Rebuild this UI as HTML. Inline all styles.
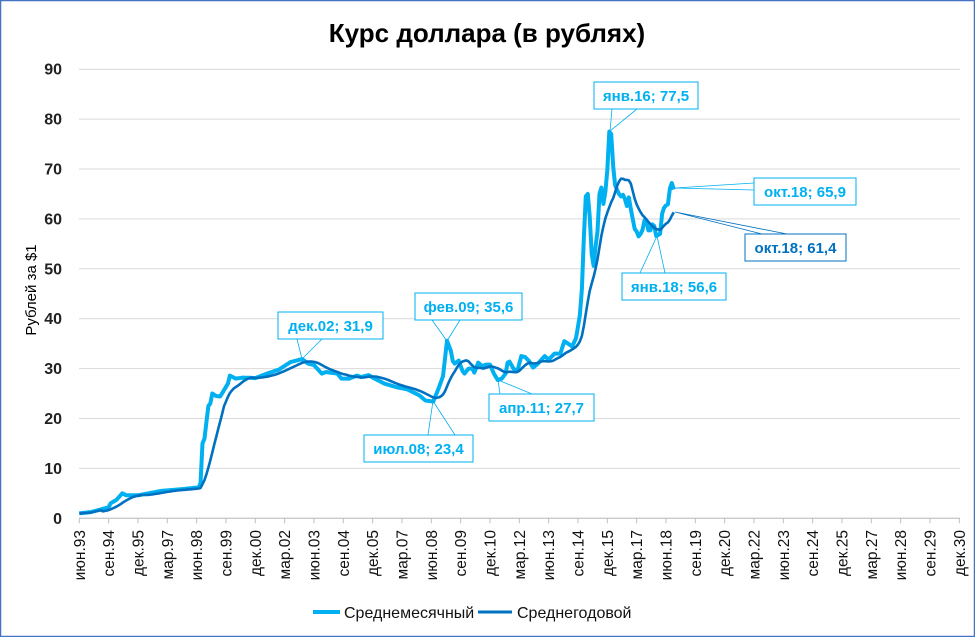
<!DOCTYPE html>
<html><head><meta charset="utf-8">
<style>
html,body{margin:0;padding:0;background:#fff;}
body{width:975px;height:637px;overflow:hidden;font-family:"Liberation Sans","DejaVu Sans",sans-serif;}
svg text{font-family:"Liberation Sans","DejaVu Sans",sans-serif;}
</style></head>
<body>
<svg id="c" width="975" height="637" xmlns="http://www.w3.org/2000/svg">
<rect x="0.5" y="0.5" width="974" height="636" fill="#fff" stroke="#4472C4" stroke-width="1.5"/>
<text x="487" y="42" text-anchor="middle" font-size="26" font-weight="bold" fill="#000">Курс доллара (в рублях)</text>
<text transform="translate(36,290) rotate(-90)" text-anchor="middle" font-size="15" fill="#000">Рублей за $1</text>
<g id="grid"></g>
<g id="ylab" font-size="16" font-weight="bold" fill="#222" text-anchor="end"></g>
<g id="xlab" font-size="15.5" fill="#111"></g>
<path id="mon" fill="none" stroke="#00B0F0" stroke-width="4" stroke-linejoin="round"/>
<path id="ann" fill="none" stroke="#0070C0" stroke-width="2.6" stroke-linejoin="round"/>
<g fill="none" stroke="#00B0F0" stroke-width="0.8">
<polyline points="297,339 302,359 322,339"/>
<polyline points="432,320 447,341 460,320"/>
<polyline points="428,435 433,401 455,435"/>
<polyline points="500,394 498,380 532,394"/>
<polyline points="612,109 610,131 637,109"/>
<polyline points="754,183 675,188 754,190"/>
<polyline points="640,273 657,236 665,273"/>
</g>
<g fill="none" stroke="#0070C0" stroke-width="0.8">
<polyline points="762,234 675,212 787,234"/>
</g>
<g font-size="15" font-weight="bold" fill="#00B0F0">
<rect x="278" y="312" width="105" height="27" fill="#fff" stroke="#00B0F0"/><text x="330.5" y="331" text-anchor="middle">дек.02; 31,9</text>
<rect x="415" y="293" width="107" height="27" fill="#fff" stroke="#00B0F0"/><text x="468.5" y="312" text-anchor="middle">фев.09; 35,6</text>
<rect x="364" y="435" width="109" height="27" fill="#fff" stroke="#00B0F0"/><text x="418.5" y="454" text-anchor="middle">июл.08; 23,4</text>
<rect x="489" y="394" width="105" height="27" fill="#fff" stroke="#00B0F0"/><text x="541.5" y="413" text-anchor="middle">апр.11; 27,7</text>
<rect x="594" y="82" width="104" height="27" fill="#fff" stroke="#00B0F0"/><text x="646" y="101" text-anchor="middle">янв.16; 77,5</text>
<rect x="754" y="178" width="102" height="27" fill="#fff" stroke="#00B0F0"/><text x="805" y="197" text-anchor="middle">окт.18; 65,9</text>
<rect x="622" y="273" width="104" height="27" fill="#fff" stroke="#00B0F0"/><text x="674" y="292" text-anchor="middle">янв.18; 56,6</text>
<rect x="745" y="234" width="101" height="27" fill="#fff" stroke="#0070C0"/><text x="795.5" y="253" text-anchor="middle" fill="#0070C0">окт.18; 61,4</text>
</g>
<line x1="313" y1="612" x2="340" y2="612" stroke="#00B0F0" stroke-width="4"/>
<text x="344" y="618" font-size="16" fill="#111">Среднемесячный</text>
<line x1="478" y1="612" x2="512" y2="612" stroke="#0070C0" stroke-width="3"/>
<text x="517" y="618" font-size="16" fill="#111">Среднегодовой</text>
</svg>
<script>
var X0=79.3,PM=1.9556,Y0=518.3,PY=4.99;
function X(m){return X0+m*PM;}function Y(v){return Y0-v*PY;}
var ns="http://www.w3.org/2000/svg";
function el(p,t,a,txt){var e=document.createElementNS(ns,t);for(var k in a)e.setAttribute(k,a[k]);if(txt)e.textContent=txt;document.getElementById(p).appendChild(e);}
for(var v=0;v<=90;v+=10){el('grid','line',{x1:79,x2:960,y1:Y(v),y2:Y(v),stroke:'#d9d9d9','stroke-width':1});el('ylab','text',{x:62,y:Y(v)+5.5},String(v));}
el('grid','line',{x1:79,x2:960,y1:Y0,y2:Y0,stroke:'#bfbfbf','stroke-width':1});
var mn=['июн','сен','дек','мар'];
for(var i=0;i<=30;i++){var m=i*15,x=X(m);el('grid','line',{x1:x,x2:x,y1:Y0,y2:Y0+5,stroke:'#bfbfbf'});
var yr=(93+Math.floor((5+m)/12))%100;var lab=mn[i%4]+'.'+(yr<10?'0':'')+yr;
el('xlab','text',{transform:'translate('+(x+5.5)+',530) rotate(-90)','text-anchor':'end'},lab);}
var k=[[0,1.0],[6,1.25],[12,1.9],[15,2.2],[16,3.0],[19,3.7],[22,5.0],[24,4.6],[30,4.6],[42,5.5],[54,5.9],[61,6.2],[62,7],[63,15],[64,16],[66,22.5],[67,23],[68,25],[70,24.5],[72,24.4],[76,27],[77,28.6],[80,28],[84,28.2],[90,28.1],[96,29],[102,29.8],[108,31.3],[114,31.9],[117,31],[120,30.7],[124,29],[126,29.3],[132,29],[134,28],[138,28],[142,28.6],[144,28.3],[148,28.7],[150,28.2],[156,27],[162,26.3],[168,25.8],[174,24.6],[177,23.6],[181,23.4],[184,26.3],[186,28.5],[187,32],[188,35.6],[189,34.6],[190,33.5],[191,31.5],[192,31],[194,31.6],[196,29.5],[197,29],[199,30],[201,30.0],[202,29.2],[204,31.2],[206,30.5],[208,30.8],[210,30.8],[212,29.0],[214,27.7],[216,28],[218,29],[219,31.2],[220,31.4],[222,30.0],[224,29.5],[226,32.5],[228,32.3],[230,31.5],[232,30.2],[234,30.8],[238,32.5],[240,31.8],[243,33],[246,33],[248,35.5],[250,35],[252,34.4],[254,36.1],[256,40.8],[257,46],[258,56],[259,64.5],[260,65],[261,60.5],[262,53],[263,50.6],[264,54.5],[265,57.5],[266,65],[267,66.3],[268,63],[269,65.5],[270,69.7],[271,77.5],[272,77],[273,70.5],[274,66.8],[275,65.8],[276,65],[277,64.5],[278,64.8],[279,64],[280,62.6],[281,64.3],[282,62],[283,60],[284,58],[285,57.5],[286,56.5],[287,57],[288,57.8],[289,59.7],[290,59.6],[291,57.7],[292,57.7],[293,58.9],[294,58.6],[295,56.6],[296,56.8],[297,57],[298,61],[299,62.2],[300,62.7],[301,62.9],[302,66.1],[303,67.2],[304,65.9]];
var v=[];for(var j=0;j<k.length-1;j++){var a=k[j],b=k[j+1];for(var m=a[0];m<b[0];m++)v[m]=a[1]+(b[1]-a[1])*(m-a[0])/(b[0]-a[0]);}v[304]=65.9;
var d='',e='';for(var m=0;m<=304;m++){d+=(m?'L':'M')+X(m).toFixed(1)+' '+Y(v[m]).toFixed(1);
var s=0,n=0;for(var q=Math.max(0,m-11);q<=m;q++){s+=v[q];n++;}var av=s/n;if(m<12)av=v[m]*0.85+0.1;e+=(m?'L':'M')+X(m).toFixed(1)+' '+Y(av).toFixed(1);}
document.getElementById('mon').setAttribute('d',d);document.getElementById('ann').setAttribute('d',e);
</script>
</body></html>
